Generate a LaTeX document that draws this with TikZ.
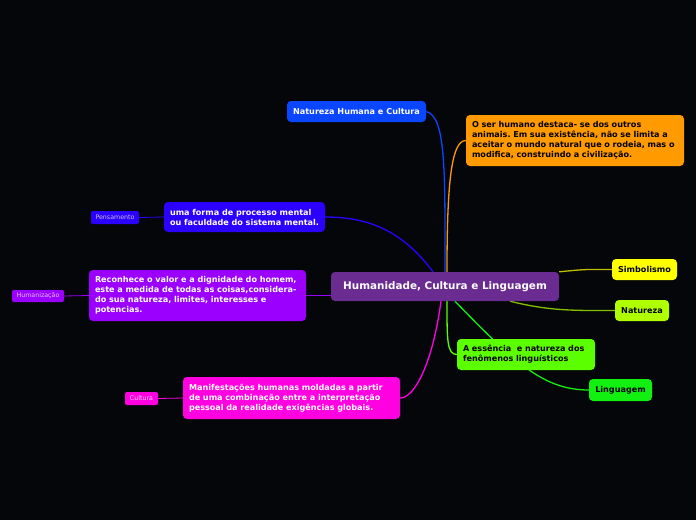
\documentclass[tikz,border=0pt]{standalone}
\usepackage{fontspec}
\setmainfont{DejaVu Sans}
\frenchspacing
\usetikzlibrary{calc, backgrounds}
\definecolor{cbg}{HTML}{05060A}
\definecolor{chub}{HTML}{6B2C91}
\definecolor{cblue}{HTML}{0A45FF}
\definecolor{corange}{HTML}{FF9A00}
\definecolor{cindigo}{HTML}{2B00FF}
\definecolor{cviolet}{HTML}{9B00FF}
\definecolor{cmagenta}{HTML}{FF00E0}
\definecolor{cyellow}{HTML}{FFFF00}
\definecolor{clime}{HTML}{B0FF00}
\definecolor{cgreen}{HTML}{5CFF00}
\definecolor{cleaf}{HTML}{11F010}
\tikzset{
  every picture/.style={x=1pt, y=-1pt},
  topic/.style={fill=#1, rounded corners=4pt, inner sep=0pt, align=center, font=\bfseries\fontsize{8.1}{10}\selectfont},
  note/.style={fill=#1, rounded corners=4pt, inner xsep=6pt, inner ysep=0pt, align=left, font=\bfseries\fontsize{8.1}{10}\selectfont},
  tag/.style={fill=#1, rounded corners=2pt, inner sep=0pt, font=\fontsize{6.3}{7}\selectfont},
  link/.style={draw=#1, line width=1.3pt},
  twig/.style={draw=#1, line width=0.8pt},
}
\begin{document}
\begin{tikzpicture}
  \useasboundingbox (0,0) rectangle (696,520);
  \node[topic=chub, text=white, minimum width=228, minimum height=29, font=\bfseries\fontsize{10.4}{12}\selectfont] (hub) at (445,286.5) {Humanidade, Cultura e Linguagem};
  \node[topic=cblue, text=white, minimum width=139, minimum height=21] (nh) at (356.5,111.5) {Natureza Humana e Cultura};
  \node[note=corange, text=black, text width=206, minimum height=51] (ser) at (575,140.5) {O ser humano destaca- se dos outros\\ animais. Em sua existência, não se limita a\\ aceitar o mundo natural que o rodeia, mas o\\ modifica, construindo a civilização.};
  \node[note=cindigo, text=white, text width=149, minimum height=30] (pens) at (244.5,217) {uma forma de processo mental\\ ou faculdade do sistema mental.};
  \node[tag=cindigo, text=white!75!cindigo, minimum width=48, minimum height=13] (pensT) at (115,217.5) {Pensamento};
  \node[note=cviolet, text=white, text width=205, minimum height=51] (hum) at (197.5,295.5) {Reconhece o valor e a dignidade do homem,\\ este a medida de todas as coisas,considera-\\ do sua natureza, limites, interesses e\\ potencias.};
  \node[tag=cviolet, text=white!75!cviolet, minimum width=52, minimum height=12] (humT) at (38,296) {Humanização};
  \node[note=cmagenta, text=white, text width=205, minimum height=42] (cult) at (291.5,398) {Manifestações humanas moldadas a partir\\ de uma combinação entre a interpretação\\ pessoal da realidade exigências globais.};
  \node[tag=cmagenta, text=white!80!cmagenta, minimum width=33, minimum height=13] (cultT) at (141.5,398.5) {Cultura};
  \node[topic=cyellow, text=black, minimum width=65, minimum height=21] (simb) at (644.5,269.5) {Simbolismo};
  \node[topic=clime, text=black, minimum width=54, minimum height=21] (nat) at (642,310.5) {Natureza};
  \node[note=cgreen, text=black, text width=126, minimum height=31] (ess) at (526,354.5) {A essência\ \ e natureza dos\\ fenômenos linguísticos};
  \node[topic=cleaf, text=black, minimum width=63, minimum height=22] (ling) at (620.5,390) {Linguagem};
  \begin{scope}[on background layer]
    \fill[cbg] (0,0) rectangle (696,520);
    \draw[link=cblue] (hub.north) .. controls +(0,-100) and +(20,5) .. (nh.east);
    \draw[link=corange] ($(hub.north)+(2,0)$) .. controls +(0,-85) and +(-15,0) .. (ser.west);
    \draw[link=cindigo] ($(hub.north)+(-12,0)$) .. controls +(-30,-40) and +(45,0) .. (pens.east);
    \draw[link=cviolet] (hum.east) -- (hum.east -| hub.west);
    \draw[link=cmagenta] ($(hub.south)+(-4,0)$) .. controls +(-8,60) and +(15,0) .. (cult.east);
    \draw[link=cyellow!75!black] (hub.north east) .. controls +(30,-3) and +(-25,0) .. (simb.west);
    \draw[link=clime!75!black] ($(hub.south)+(65,0)$) .. controls +(40,10) and +(-40,0) .. (nat.west);
    \draw[link=cleaf] ($(hub.south)+(10,0)$) .. controls +(60,62) and +(-45,0) .. (ling.west);
    \draw[link=cgreen] ($(hub.south)+(2,0)$) .. controls +(0,38) and +(-10,0) .. (ess.west);
    \draw[twig=cindigo] (pensT.east) -- (pens.west);
    \draw[twig=cviolet] (humT.east) -- (hum.west);
    \draw[twig=cmagenta] (cultT.east) -- (cult.west);
  \end{scope}
\end{tikzpicture}
\end{document}
